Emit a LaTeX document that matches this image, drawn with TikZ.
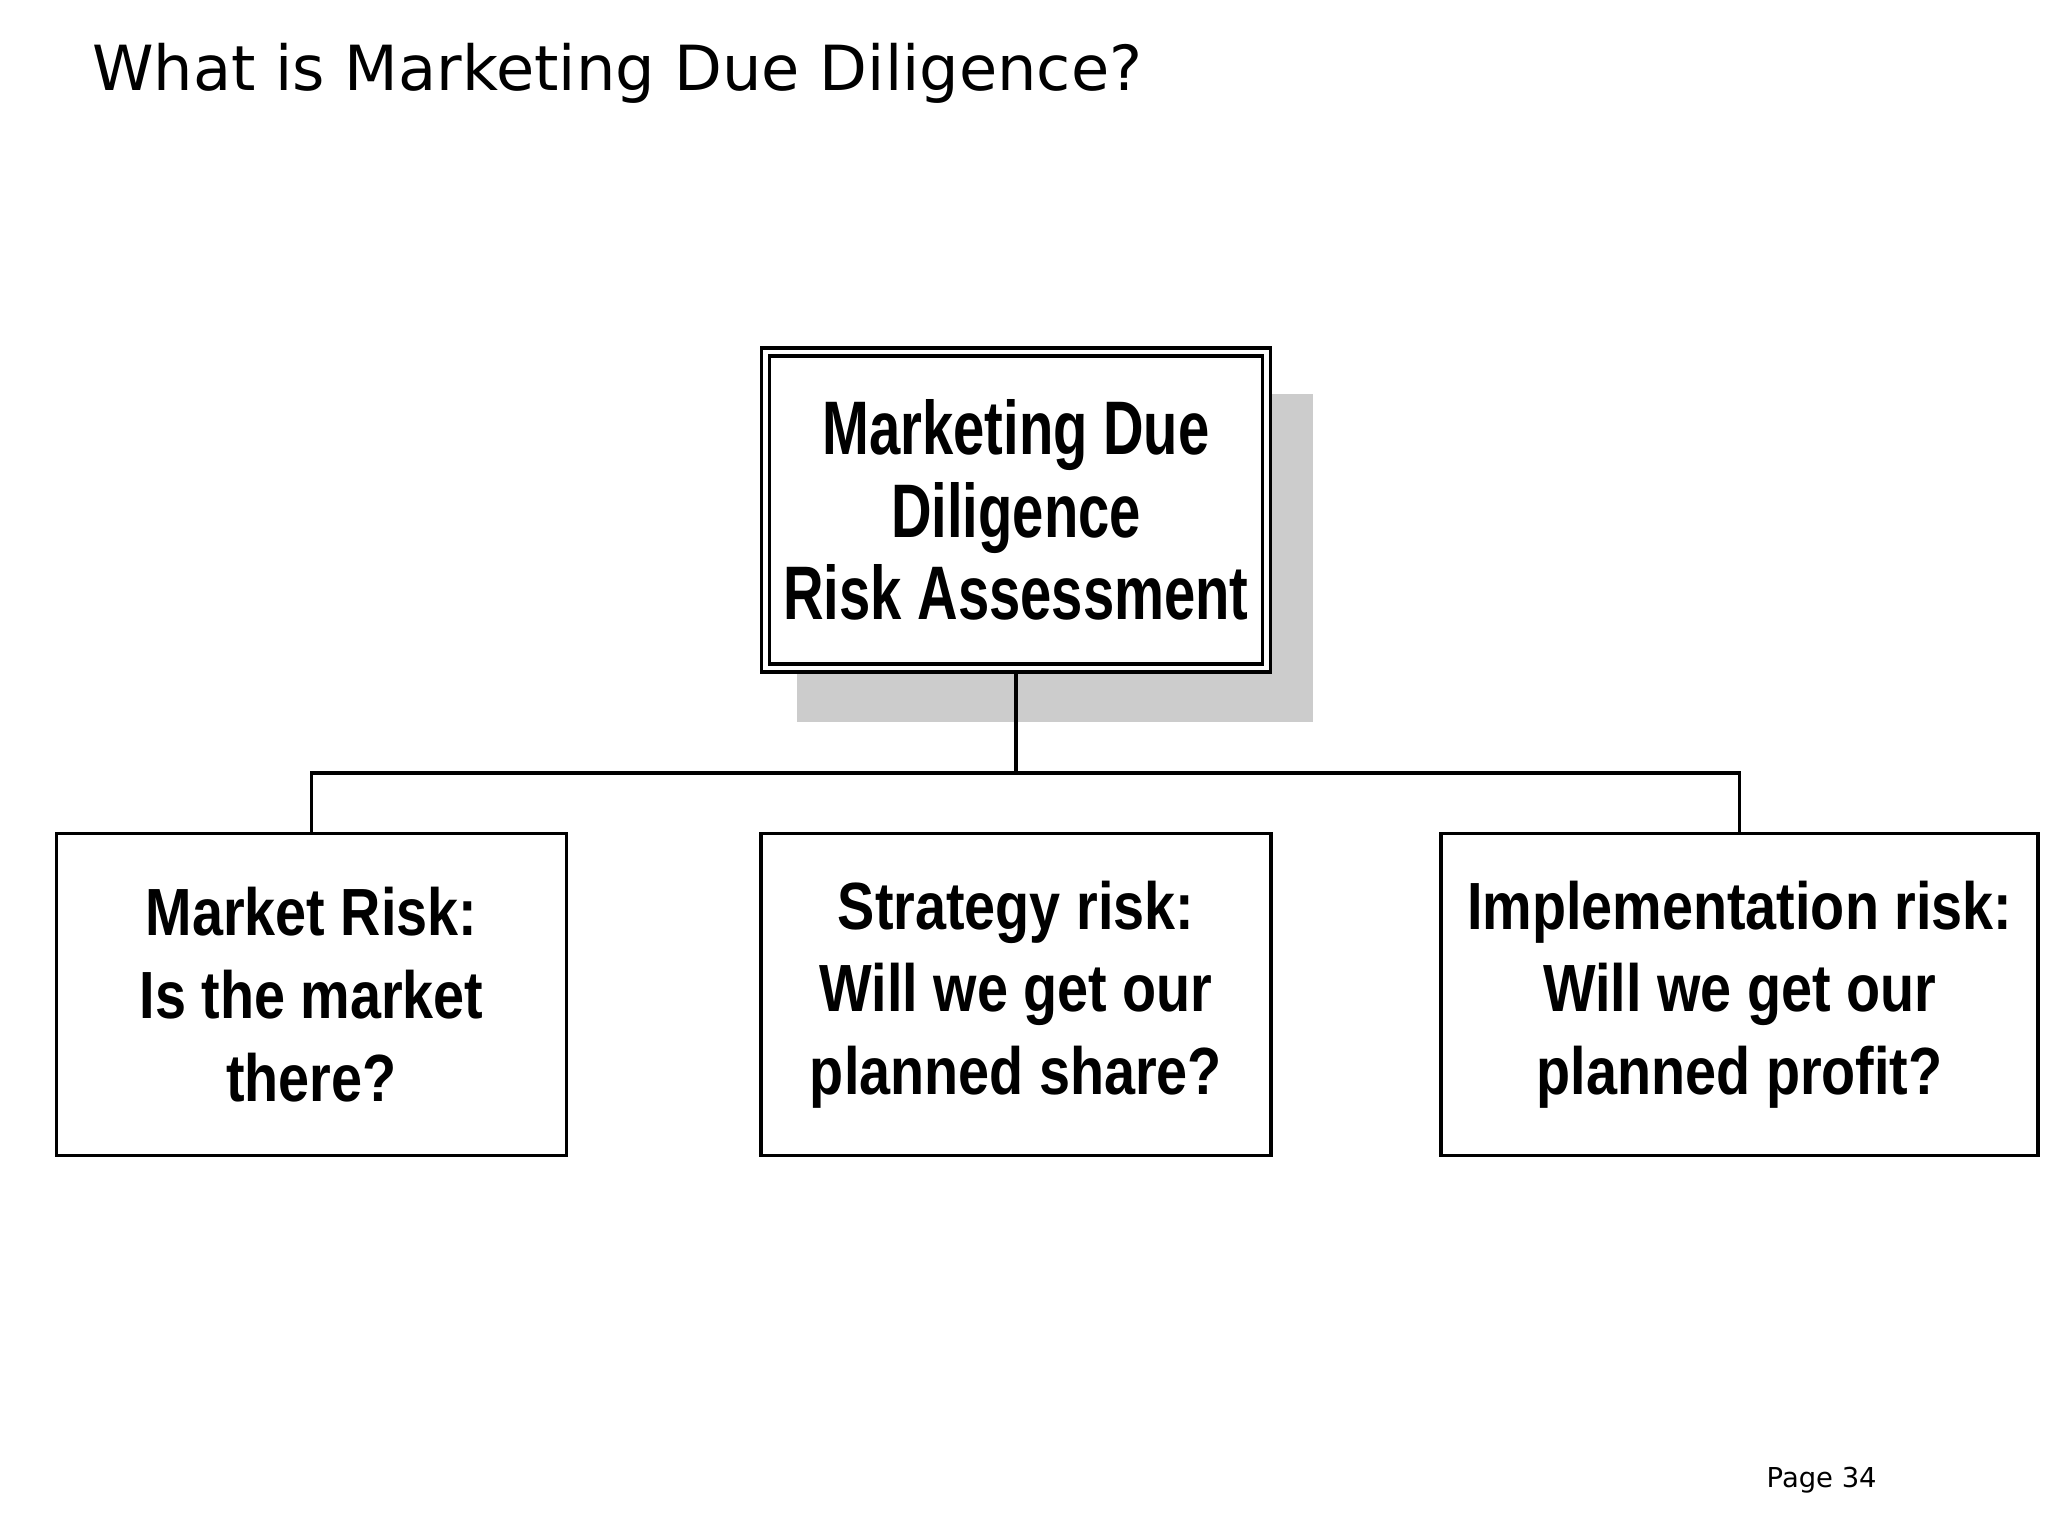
\documentclass[tikz,border=0pt]{standalone}
\usepackage{fontspec}
\setmainfont{DejaVu Sans}
\newfontfamily\topboxfont[FakeStretch=0.74]{Liberation Sans}
\newfontfamily\riskfont[FakeStretch=0.835]{Liberation Sans}
\usepackage{xcolor}
\usepackage{tikz}
\usetikzlibrary{positioning,calc}
\definecolor{shadowgray}{RGB}{204,204,204}

\begin{document}
\begin{tikzpicture}[x=1cm, y=1cm,
    riskbox/.style={draw, line width=1pt, fill=white, minimum width=5.1cm,
      minimum height=3.22cm, inner sep=0pt, align=center,
      font=\riskfont\bfseries\fontsize{19pt}{23.5pt}\selectfont},
    mainbox/.style={draw, line width=1pt, double=white, double distance=1.3pt,
      fill=white, outer sep=1.65pt, minimum width=5.01cm, minimum height=3.16cm,
      inner sep=0pt, align=center,
      font=\topboxfont\bfseries\fontsize{21.6pt}{23.5pt}\selectfont},
    link/.style={line width=1pt}]
  \useasboundingbox (0,0) rectangle (20.48,15.36);

  % Title
  \node[anchor=base west, inner sep=0pt, font=\fontsize{17.7pt}{21pt}\selectfont]
    (title) at (0.914,14.45) {What is Marketing Due Diligence?};

  % Shadow of the main box
  \fill[shadowgray] (7.97,8.14) rectangle (13.13,11.42);

  % Main box
  \node[mainbox] (mdd) at (10.16,10.26) {\raisebox{0.06cm}{\parbox{5cm}{\centering Marketing Due\\Diligence\\Risk Assessment}}};

  % Risk boxes
  \node[riskbox] (market) at (3.115,5.414) {Market Risk:\\Is the market\\there?};
  \node[riskbox] (strategy) at (10.16,5.414) {Strategy risk:\\Will we get our\\planned share?};
  \node[riskbox, minimum width=5.97cm] (impl) at (17.397,5.414) {Implementation risk:\\Will we get our\\planned profit?};

  % Connectors
  \coordinate (bus) at (10.16,7.628);
  \draw[link] (mdd.south) -- (bus);
  \draw[link] (market.north) |- (bus) -| (impl.north);

  % Page number
  \node[anchor=base west, inner sep=0pt, font=\fontsize{7.8pt}{9pt}\selectfont]
    (pagenum) at (17.66,0.484) {Page 34};
\end{tikzpicture}
\end{document}
